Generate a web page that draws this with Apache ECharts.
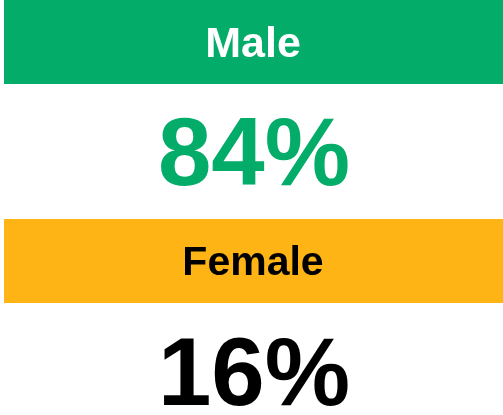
<!DOCTYPE html>
<html>
<head>
<meta charset="utf-8">
<script src="https://cdn.jsdelivr.net/npm/echarts@6/dist/echarts.min.js"></script>
<style>html,body{margin:0;padding:0;background:#fff;}#main{width:503px;height:415px;}</style>
</head>
<body>
<div id="main"></div>
<script>
var categories = ['Male', 'Female'];
var values = [84, 16];
var headerColors = ['#03AC69', '#FDB414'];
var headerTextColors = ['#FFFFFF', '#000000'];
var valueTextColors = ['#03AC69', '#000000'];

var chart = echarts.init(document.getElementById('main'), null, {renderer: 'canvas'});
var font = '"Liberation Sans", Arial, sans-serif';
var bandTops = [0, 219];
var bandH = 84;
var valueCenters = [159, 379];
var headerSizes = [43, 41];
var graphics = [];
categories.forEach(function (c, i) {
  graphics.push({
    type: 'rect',
    shape: {x: 4, y: bandTops[i], width: 499, height: bandH},
    style: {fill: headerColors[i]}
  });
  graphics.push({
    type: 'text',
    x: 253, y: bandTops[i] + bandH / 2 + 3,
    style: {
      text: c, fill: headerTextColors[i], font: 'bold ' + headerSizes[i] + 'px ' + font,
      textAlign: 'center', textVerticalAlign: 'middle'
    }
  });
  graphics.push({
    type: 'text',
    x: 254, y: valueCenters[i],
    style: {
      text: values[i] + '%', fill: valueTextColors[i], font: 'bold 96px ' + font,
      textAlign: 'center', textVerticalAlign: 'middle'
    }
  });
});
chart.setOption({
  animation: false,
  graphic: graphics
});
</script>
</body>
</html>
